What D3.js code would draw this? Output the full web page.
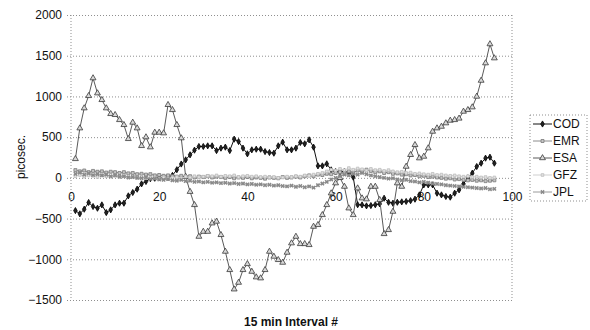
<!DOCTYPE html>
<html>
<head>
<meta charset="utf-8">
<script src="https://cdn.jsdelivr.net/npm/d3@7"></script>
<style>
  body { margin: 0; background: #fff; }
  svg { font-family: "Liberation Sans", Arial, sans-serif; }
</style>
</head>
<body>
<svg id="chart" width="590" height="330"></svg>
<script>
// values for intervals 1..96 (picosec.)
const COD = [-402, -442, -385, -303, -352, -373, -332, -426, -393, -332,
  -311, -311, -221, -180, -139, -74, -45, -10, -5, 0,
  0, 5, 30, 100, 170, 221, 283, 340, 385, 385,
  393, 393, 335, 365, 377, 335, 475, 446, 365, 295,
  344, 352, 352, 323, 311, 303, 393, 438, 344, 344,
  365, 434, 418, 467, 377, 147, 147, 172, 98, 77,
  77, 77, 58, 9, -330, -332, -344, -340, -330, -320,
  -250, -300, -311, -300, -295, -290, -280, -262, -209, -86,
  -86, -86, -188, -209, -229, -237, -188, -147, -74, 0,
  58, 139, 180, 242, 254, 180];

const EMR = [95, 80, 90, 70, 85, 75, 80, 65, 75, 70,
  60, 70, 55, 60, 45, 50, 40, 45, 30, 35,
  25, 30, 20, 15, 25, 10, 20, 5, 15, 10,
  20, 5, 15, 10, 0, 10, -5, 5, 0, 10,
  -5, 5, 0, -10, 5, 0, -5, 10, 0, 5,
  15, 5, 20, 30, 20, 40, 35, 50, 45, 60,
  70, 55, 80, 65, 90, 75, 100, 85, 70, 80,
  60, 70, 50, 55, 40, 45, 30, 35, 20, 25,
  10, 15, 5, 0, -10, -5, -20, -15, -25, -30,
  -25, -35, -30, -40, -35, -30];

const ESA = [233, 610, 856, 1007, 1225, 1040, 958, 856, 786, 774,
  712, 651, 479, 680, 610, 393, 500, 377, 557, 557,
  549, 897, 835, 651, 488, 16, -170, -332, -721, -660,
  -660, -557, -536, -700, -905, -1130, -1368, -1286, -1130, -1057,
  -1151, -1220, -1232, -1130, -905, -966, -1007, -1040, -917, -802,
  -721, -811, -811, -823, -598, -577, -455, -332, -188, -65,
  0, -107, -373, -455, -127, -250, -262, -107, -107, -270,
  -688, -639, -414, -65, -107, 139, 283, 405, 242, 262,
  365, 569, 610, 630, 672, 704, 712, 730, 815, 835,
  868, 999, 1195, 1409, 1643, 1470];

const GFZ = [20, 35, 15, 30, 25, 10, 30, 20, 15, 25,
  10, 20, 5, 15, 0, 10, -5, 5, 0, -10,
  5, -5, 0, 10, -5, 15, 5, 20, 10, 15,
  25, 20, 30, 15, 25, 20, 30, 10, 20, 25,
  15, 20, 10, 15, 5, 10, 0, 5, 15, 10,
  20, 15, 30, 25, 40, 50, 60, 80, 100, 90,
  110, 95, 120, 100, 115, 105, 90, 110, 95, 100,
  85, 95, 80, 70, 75, 60, 65, 50, 55, 45,
  40, 50, 35, 40, 30, 25, 30, 20, 15, 20,
  10, 15, 5, 10, 0, 5];

const JPL = [50, 65, 40, 55, 35, 45, 30, 40, 20, 30,
  15, 20, 5, 10, 0, -5, 5, -15, -10, -20,
  -25, -15, -30, -35, -25, -40, -35, -50, -45, -55,
  -50, -60, -55, -65, -60, -70, -65, -75, -70, -80,
  -75, -85, -80, -90, -85, -95, -90, -100, -105, -95,
  -110, -100, -115, -105, -120, -90, -70, -50, -20, 0,
  20, 40, 30, 50, 40, 60, 45, 30, 20, 10,
  0, -10, -5, -20, -30, -25, -40, -45, -55, -50,
  -60, -70, -75, -80, -90, -95, -100, -105, -110, -115,
  -120, -125, -130, -125, -140, -135];

const seriesNames = ["COD", "EMR", "ESA", "GFZ", "JPL"];
const xTicks = [0, 20, 40, 60, 80, 100];
const yTicks = [-1500, -1000, -500, 0, 500, 1000, 1500, 2000];

const series = [
  { name: "COD", values: COD, line: "#111", sym: d3.symbolDiamond, size: 11, fill: "#222", edge: "#000", rot: 0 },
  { name: "EMR", values: EMR, line: "#8c8c8c", sym: d3.symbolSquare, size: 9, fill: "#c4c4c4", edge: "#7a7a7a", rot: 0 },
  { name: "ESA", values: ESA, line: "#5a5a5a", sym: d3.symbolTriangle, size: 15, fill: "#d8d8d8", edge: "#3a3a3a", rot: 0 },
  { name: "GFZ", values: GFZ, line: "#cfcfcf", sym: d3.symbolSquare, size: 7, fill: "#e2e2e2", edge: "#bdbdbd", rot: 0 },
  { name: "JPL", values: JPL, line: "#9a9a9a", sym: d3.symbolCross, size: 12, fill: "#8a8a8a", edge: "none", rot: 45 }
];

const svg = d3.select("#chart");

const x = d3.scaleLinear().domain([0, 100]).range([71, 512]);
const y = d3.scaleLinear().domain([-1500, 2000]).range([300, 15]);

// y axis + gridlines
const yAxis = svg.append("g")
  .attr("transform", `translate(${x(0)},0)`)
  .call(d3.axisLeft(y).tickValues(yTicks).tickFormat(d3.format("d"))
    .tickSize(-(x(100) - x(0))).tickPadding(9));
yAxis.select(".domain").remove();
yAxis.selectAll(".tick line")
  .attr("x1", -4)
  .attr("stroke", "#8f8f8f")
  .attr("stroke-dasharray", "1,2");
yAxis.selectAll(".tick text")
  .attr("font-size", 12)
  .attr("fill", "#111")
  .attr("font-family", "Liberation Sans, Arial, sans-serif");

// plot borders (left / right)
svg.append("g").selectAll("line")
  .data([0, 100])
  .enter().append("line")
    .attr("x1", d => x(d)).attr("x2", d => x(d))
    .attr("y1", y(2000)).attr("y2", y(-1500))
    .attr("stroke", "#8f8f8f")
    .attr("stroke-dasharray", "1,2");

// x axis labels sit under the zero line
const xAxis = svg.append("g")
  .attr("transform", `translate(0,${y(0)})`)
  .call(d3.axisBottom(x).tickValues(xTicks).tickFormat(d3.format("d"))
    .tickSize(0).tickPadding(15));
xAxis.select(".domain").remove();
xAxis.selectAll(".tick text")
  .attr("font-size", 12)
  .attr("fill", "#111")
  .attr("font-family", "Liberation Sans, Arial, sans-serif");

const line = d3.line()
  .x((d, i) => x(i + 1))
  .y(d => y(d));

const plot = svg.append("g");

series.forEach(s => {
  const g = plot.append("g");
  g.append("path")
    .datum(s.values)
    .attr("fill", "none")
    .attr("stroke", s.line)
    .attr("stroke-width", 1)
    .attr("d", line);
  g.selectAll("path.mk")
    .data(s.values)
    .enter().append("path")
      .attr("class", "mk")
      .attr("d", d3.symbol().type(s.sym).size(s.size))
      .attr("transform", (d, i) => `translate(${x(i + 1)},${y(d)}) rotate(${s.rot})`)
      .attr("fill", s.fill)
      .attr("stroke", s.edge)
      .attr("stroke-width", 0.8);
});

// legend
const legend = svg.append("g");
legend.append("rect")
  .attr("x", 530).attr("y", 115)
  .attr("width", 57).attr("height", 86)
  .attr("fill", "#fff")
  .attr("stroke", "#8f8f8f")
  .attr("stroke-dasharray", "1,2");

legend.selectAll("g")
  .data(series)
  .enter().append("g")
    .attr("transform", (d, i) => `translate(533,${124 + i * 17})`)
    .call(g => g.append("line")
      .attr("x1", 0).attr("x2", 19)
      .attr("stroke", d => d.line))
    .call(g => g.append("path")
      .attr("d", d => d3.symbol().type(d.sym).size(d.size)())
      .attr("transform", d => `translate(9.5,0) rotate(${d.rot})`)
      .attr("fill", d => d.fill)
      .attr("stroke", d => d.edge)
      .attr("stroke-width", 0.8))
    .call(g => g.append("text")
      .attr("x", 20)
      .attr("dy", "0.35em")
      .attr("font-size", 12)
      .attr("fill", "#111")
      .text(d => d.name));

// axis titles
svg.append("text")
  .attr("transform", `translate(25,157) rotate(-90)`)
  .attr("text-anchor", "middle")
  .attr("font-size", 12)
  .attr("fill", "#111")
  .text("picosec.");

svg.append("text")
  .attr("x", 291).attr("y", 326)
  .attr("text-anchor", "middle")
  .attr("font-size", 12)
  .attr("font-weight", "bold")
  .attr("fill", "#111")
  .text("15 min Interval #");
</script>
</body>
</html>
